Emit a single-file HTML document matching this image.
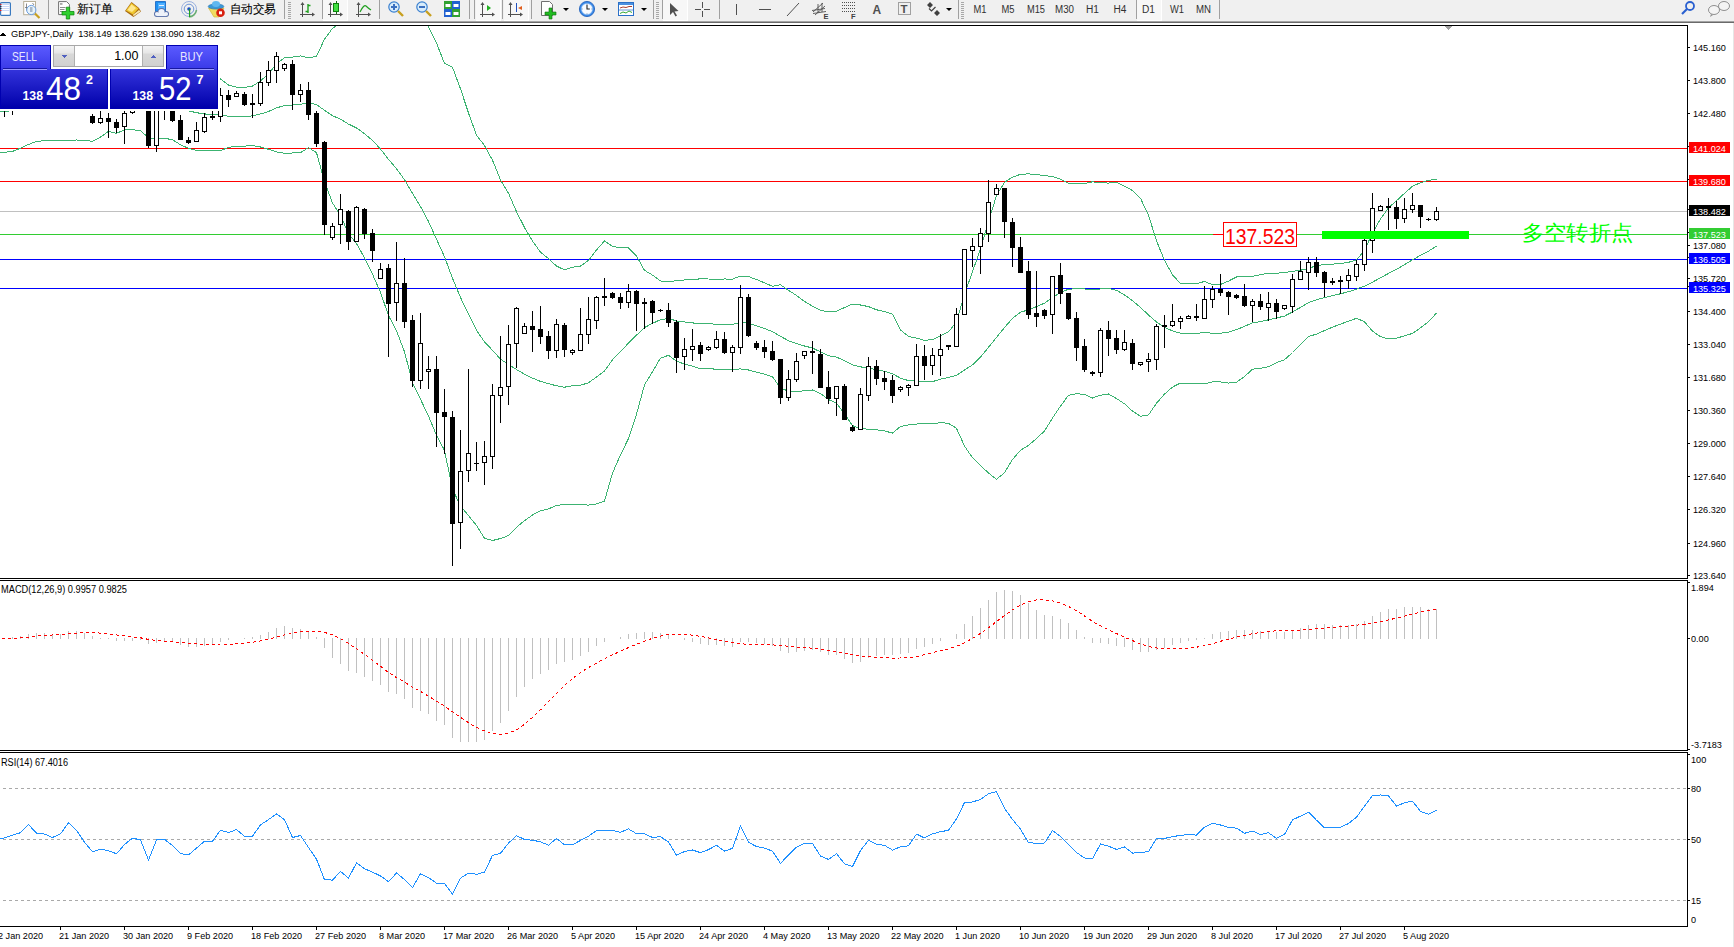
<!DOCTYPE html><html><head><meta charset="utf-8"><style>html,body{margin:0;padding:0;width:1734px;height:947px;overflow:hidden;background:#fff;}svg text{font-family:"Liberation Sans",sans-serif;}</style></head><body><svg width="1734" height="947" viewBox="0 0 1734 947" style="position:absolute;left:0;top:0" font-family="Liberation Sans, sans-serif"><g shape-rendering="geometricPrecision"><rect x="0" y="0" width="1734" height="21" fill="#f0f0f0"/><rect x="0" y="21" width="1734" height="1" fill="#a4a4a4"/><rect x="0" y="22" width="1734" height="1" fill="#6a6a6a"/><rect x="0.6" y="2.6" width="9.8" height="12.8" rx="1" fill="#fff" stroke="#3a7ac0" stroke-width="1.2"/><rect x="2" y="4.0" width="7.5" height="1" fill="#c8d8f8"/><rect x="0" y="4.0" width="1.5" height="1" fill="#e02020"/><rect x="2" y="6.0" width="7.5" height="1" fill="#c8d8f8"/><rect x="0" y="6.0" width="1.5" height="1" fill="#303030"/><rect x="2" y="8.0" width="7.5" height="1" fill="#c8d8f8"/><rect x="0" y="8.0" width="1.5" height="1" fill="#303030"/><rect x="2" y="10.0" width="7.5" height="1" fill="#c8d8f8"/><rect x="0" y="10.0" width="1.5" height="1" fill="#e02020"/><rect x="23.7" y="1.5" width="11.8" height="13.2" fill="#fff" stroke="#b8b098" stroke-width="1"/><path d="M26.5,3.5 v7 M25,7.5 h2 M32.5,3 l1.5,2" stroke="#707070" stroke-width="0.8" fill="none"/><circle cx="31.3" cy="10" r="4.6" fill="#e4f2fa" fill-opacity="0.9" stroke="#6a9ee0" stroke-width="1"/><rect x="30" y="7" width="2.5" height="5" fill="#a8b8c8"/><line x1="35" y1="13.5" x2="39.5" y2="18" stroke="#c8a020" stroke-width="2.2"/><rect x="48" y="0" width="1" height="19" fill="#a0a0a0"/><path d="M58.6,1.6 h8 l2.8,2.8 v10.2 h-10.8 z" fill="#fff" stroke="#707070" stroke-width="1"/><rect x="60" y="3.3" width="2.5" height="1.3" fill="#808080"/><rect x="60" y="7" width="5.5" height="0.9" fill="#808080"/><rect x="60" y="9" width="4.5" height="0.9" fill="#808080"/><rect x="60" y="11" width="3" height="0.9" fill="#808080"/><path d="M66.3,7.2 h3.4 v4.3 h4.3 v3.4 h-4.3 v4.1 h-3.4 v-4.1 h-4.3 v-3.4 h4.3 z" fill="#30d030" stroke="#108a10" stroke-width="0.8"/><text x="77" y="12.5" font-size="12" fill="#000" stroke="#000" stroke-width="0.1" textLength="36" lengthAdjust="spacingAndGlyphs">新订单</text><path d="M125,11 L131.5,2 L139,8 L141,11.5 L133.5,17 Z" fill="#a86a10"/><path d="M126,10.5 L131.5,3 L138.5,8.5 L133,14.5 Z" fill="#f0c830"/><path d="M127.5,10 L131.5,4.5 L136,8 L132,12 Z" fill="#ffe890"/><path d="M133,14.8 L139,10 L140.5,11.5 L133.5,16.2 Z" fill="#f8e8b0"/><path d="M155.5,1.5 h10 v10 h-10 z" fill="#1e90f0" stroke="#1060c0" stroke-width="0.8"/><path d="M158,3 h7 v8 h-7 z" fill="#50b0ff"/><rect x="159" y="5" width="5" height="1" fill="#e8f4ff"/><g fill="#5870a8"><circle cx="157" cy="14" r="3"/><circle cx="161.5" cy="12" r="4"/><circle cx="166" cy="14" r="3"/><rect x="157" y="13" width="9" height="4"/></g><g fill="#eef2fa"><circle cx="157" cy="14" r="2.1"/><circle cx="161.5" cy="12" r="3.1"/><circle cx="166" cy="14" r="2.1"/><rect x="157" y="13" width="9" height="3.1"/></g><circle cx="189" cy="9" r="7.5" fill="none" stroke="#7898d8" stroke-width="0.9" opacity="0.8"/><circle cx="189" cy="9" r="4.8" fill="none" stroke="#5080d0" stroke-width="0.9" opacity="0.9"/><path d="M189,17 A8,8 0 0 0 196.5,10" stroke="#58a858" stroke-width="1.6" fill="none" opacity="0.8"/><circle cx="189" cy="9" r="1.8" fill="#1e50c0"/><rect x="189" y="9" width="1.2" height="8" fill="#20a020"/><path d="M208.5,8 L224,8 L219,17 L214,17 Z" fill="#f0dc60" stroke="#d0b030" stroke-width="0.6"/><ellipse cx="216" cy="6.5" rx="7.8" ry="2.6" fill="#3a98d8" stroke="#2070b0" stroke-width="0.6"/><ellipse cx="216" cy="4" rx="4" ry="3" fill="#60b8f0"/><circle cx="220.5" cy="12.8" r="4.3" fill="#d82010"/><rect x="219" y="11.3" width="3" height="3" fill="#fff"/><text x="229.5" y="12.5" font-size="12" fill="#000" stroke="#000" stroke-width="0.1" textLength="46.5" lengthAdjust="spacingAndGlyphs">自动交易</text><rect x="284" y="0" width="1" height="19" fill="#a0a0a0"/><rect x="288" y="2" width="3" height="1" fill="#a8a8a8"/><rect x="288" y="4" width="3" height="1" fill="#a8a8a8"/><rect x="288" y="6" width="3" height="1" fill="#a8a8a8"/><rect x="288" y="8" width="3" height="1" fill="#a8a8a8"/><rect x="288" y="10" width="3" height="1" fill="#a8a8a8"/><rect x="288" y="12" width="3" height="1" fill="#a8a8a8"/><rect x="288" y="14" width="3" height="1" fill="#a8a8a8"/><rect x="288" y="16" width="3" height="1" fill="#a8a8a8"/><rect x="288" y="18" width="3" height="1" fill="#a8a8a8"/><rect x="302" y="3" width="1" height="14" fill="#505050"/><rect x="300" y="14" width="14" height="1" fill="#505050"/><polygon points="300.5,5 304.5,5 302.5,2" fill="#505050"/><polygon points="312,12.5 312,16.5 315,14.5" fill="#505050"/><path d="M308,4 v9 M305.5,11.5 h2.5 M308,5.5 h2.5" stroke="#20a020" stroke-width="1.4" fill="none"/><rect x="322" y="0" width="1" height="19" fill="#a0a0a0"/><rect x="323" y="0" width="24" height="20" fill="#f7f7f7"/><rect x="347" y="0" width="1" height="21" fill="#fff"/><rect x="323" y="20" width="24" height="1" fill="#fff"/><rect x="330" y="3" width="1" height="14" fill="#505050"/><rect x="328" y="14" width="14" height="1" fill="#505050"/><polygon points="328.5,5 332.5,5 330.5,2" fill="#505050"/><polygon points="340,12.5 340,16.5 343,14.5" fill="#505050"/><rect x="336" y="1" width="1" height="13" fill="#107010"/><rect x="333.5" y="3.5" width="5" height="8" fill="#40e040" stroke="#108010" stroke-width="1"/><rect x="358" y="3" width="1" height="14" fill="#505050"/><rect x="356" y="14" width="14" height="1" fill="#505050"/><polygon points="356.5,5 360.5,5 358.5,2" fill="#505050"/><polygon points="368,12.5 368,16.5 371,14.5" fill="#505050"/><path d="M360,12 Q364,4 366,6 T371,10" stroke="#20a020" stroke-width="1.2" fill="none"/><rect x="379" y="0" width="1" height="19" fill="#a0a0a0"/><circle cx="394" cy="7" r="5.2" fill="#d8ecfa" stroke="#3a80d0" stroke-width="1.2"/><line x1="398" y1="11" x2="403" y2="16" stroke="#c8a020" stroke-width="2.4"/><rect x="391" y="6" width="6" height="2" fill="#3a70c0"/><rect x="393" y="4" width="2" height="6" fill="#3a70c0"/><circle cx="422" cy="7" r="5.2" fill="#d8ecfa" stroke="#3a80d0" stroke-width="1.2"/><line x1="426" y1="11" x2="431" y2="16" stroke="#c8a020" stroke-width="2.4"/><rect x="419" y="6" width="6" height="2" fill="#3a70c0"/><rect x="444" y="1" width="8" height="8" fill="#30a030"/><rect x="452" y="1" width="8" height="8" fill="#2060d0"/><rect x="444" y="9" width="8" height="8" fill="#2060d0"/><rect x="452" y="9" width="8" height="8" fill="#30a030"/><rect x="445.5" y="4" width="5" height="3" fill="#fff"/><rect x="453.5" y="4" width="5" height="3" fill="#fff"/><rect x="445.5" y="12" width="5" height="3" fill="#fff"/><rect x="453.5" y="12" width="5" height="3" fill="#fff"/><rect x="469" y="0" width="1" height="19" fill="#a0a0a0"/><rect x="474" y="0" width="1" height="19" fill="#a0a0a0"/><rect x="476" y="0" width="24" height="20" fill="#f7f7f7"/><rect x="500" y="0" width="1" height="21" fill="#fff"/><rect x="476" y="20" width="24" height="1" fill="#fff"/><rect x="482" y="3" width="1" height="14" fill="#505050"/><rect x="480" y="14" width="14" height="1" fill="#505050"/><polygon points="480.5,5 484.5,5 482.5,2" fill="#505050"/><polygon points="492,12.5 492,16.5 495,14.5" fill="#505050"/><polygon points="487,5 487,11 491,8" fill="#20b020"/><rect x="502" y="0" width="1" height="19" fill="#a0a0a0"/><rect x="504" y="0" width="24" height="20" fill="#f7f7f7"/><rect x="528" y="0" width="1" height="21" fill="#fff"/><rect x="504" y="20" width="24" height="1" fill="#fff"/><rect x="510" y="3" width="1" height="14" fill="#505050"/><rect x="508" y="14" width="14" height="1" fill="#505050"/><polygon points="508.5,5 512.5,5 510.5,2" fill="#505050"/><polygon points="520,12.5 520,16.5 523,14.5" fill="#505050"/><rect x="516" y="3" width="1" height="9" fill="#2050c0"/><polygon points="518,8 522,6 522,10" fill="#e06020"/><rect x="531" y="0" width="1" height="19" fill="#a0a0a0"/><path d="M541.5,1.5 h8 l3,3 v11 h-11 z" fill="#fff" stroke="#707070"/><path d="M549,8 h3 v4 h4 v3 h-4 v4 h-3 v-4 h-4 v-3 h4 z" fill="#22bb22" stroke="#107010" stroke-width="0.6"/><polygon points="563,8 569,8 566,11" fill="#000"/><circle cx="587" cy="9" r="7.6" fill="#3a8ae8" stroke="#1a5ab8" stroke-width="0.8"/><circle cx="587" cy="9" r="5.6" fill="#f8fbff" stroke="#8ab8f0" stroke-width="0.6"/><path d="M587,4.8 v4.2 h2.8" stroke="#222" stroke-width="1.1" fill="none"/><g fill="#6890c0"><rect x="586.5" y="3.6" width="1" height="1"/><rect x="586.5" y="13.4" width="1" height="1"/><rect x="581.6" y="8.5" width="1" height="1"/><rect x="591.4" y="8.5" width="1" height="1"/></g><polygon points="602,8 608,8 605,11" fill="#000"/><rect x="618.5" y="2.5" width="15" height="13" fill="#fff" stroke="#2a70c8"/><rect x="619" y="3" width="14" height="2" fill="#4a90e0"/><rect x="619" y="9.5" width="14" height="1" fill="#6a9ad8"/><path d="M620,8 l3,-1 l3,0.5 l3,-1 l3,0" stroke="#a02818" stroke-width="0.9" fill="none"/><path d="M620,13.5 l3,-1.5 l3,1 l3,-2 l3,1.5" stroke="#20a020" stroke-width="0.9" fill="none"/><polygon points="641,8 647,8 644,11" fill="#000"/><rect x="653" y="0" width="1" height="19" fill="#a0a0a0"/><rect x="656" y="2" width="3" height="1" fill="#a8a8a8"/><rect x="656" y="4" width="3" height="1" fill="#a8a8a8"/><rect x="656" y="6" width="3" height="1" fill="#a8a8a8"/><rect x="656" y="8" width="3" height="1" fill="#a8a8a8"/><rect x="656" y="10" width="3" height="1" fill="#a8a8a8"/><rect x="656" y="12" width="3" height="1" fill="#a8a8a8"/><rect x="656" y="14" width="3" height="1" fill="#a8a8a8"/><rect x="656" y="16" width="3" height="1" fill="#a8a8a8"/><rect x="656" y="18" width="3" height="1" fill="#a8a8a8"/><rect x="662" y="0" width="1" height="19" fill="#a0a0a0"/><rect x="663" y="0" width="24" height="20" fill="#f7f7f7"/><rect x="687" y="0" width="1" height="21" fill="#fff"/><rect x="663" y="20" width="24" height="1" fill="#fff"/><path d="M670,3 L670,15 L673,12 L675.5,16.5 L677,15.5 L674.5,11.5 L678.5,11 Z" fill="#505050"/><rect x="702" y="2" width="1" height="6" fill="#505050"/><rect x="702" y="11" width="1" height="6" fill="#505050"/><rect x="695" y="9" width="6" height="1" fill="#505050"/><rect x="704" y="9" width="6" height="1" fill="#505050"/><rect x="719" y="0" width="1" height="19" fill="#a0a0a0"/><rect x="736" y="4" width="1" height="11" fill="#505050"/><rect x="759" y="9" width="12" height="1" fill="#505050"/><line x1="787" y1="16" x2="799" y2="3" stroke="#505050" stroke-width="1"/><path d="M813,12 l10,-9 M815,15 l10,-9 M812,10.5 l13,-2 M813,13.5 l13,-2 M818,4 l0,9 M822,3 l0,9" stroke="#505050" stroke-width="0.9" fill="none"/><text x="823.5" y="18.5" font-size="7.5" font-weight="bold" fill="#404040">E</text><line x1="842" y1="2.5" x2="855" y2="2.5" stroke="#505050" stroke-width="1" stroke-dasharray="1,1"/><line x1="842" y1="5.5" x2="855" y2="5.5" stroke="#505050" stroke-width="1" stroke-dasharray="1,1"/><line x1="842" y1="8.5" x2="855" y2="8.5" stroke="#505050" stroke-width="1" stroke-dasharray="1,1"/><line x1="842" y1="11.5" x2="855" y2="11.5" stroke="#505050" stroke-width="1" stroke-dasharray="1,1"/><text x="851" y="18.5" font-size="7.5" font-weight="bold" fill="#404040">F</text><text x="872.5" y="14" font-size="12" font-weight="bold" fill="#505050">A</text><rect x="898.5" y="2.5" width="12" height="12" fill="none" stroke="#505050" stroke-width="1" stroke-dasharray="1,1"/><text x="900.5" y="13" font-size="11.5" font-weight="bold" fill="#505050">T</text><path d="M927,5 l3,-3 l3,3 l-3,3 z M934,13 l3,-3 l3,3 l-3,3 z" fill="#404040"/><path d="M929,8.5 l2.5,2.5 l4,-4" stroke="#404040" stroke-width="1.2" fill="none"/><polygon points="946,8 952,8 949,11" fill="#000"/><rect x="958" y="0" width="1" height="19" fill="#a0a0a0"/><rect x="961" y="2" width="3" height="1" fill="#a8a8a8"/><rect x="961" y="4" width="3" height="1" fill="#a8a8a8"/><rect x="961" y="6" width="3" height="1" fill="#a8a8a8"/><rect x="961" y="8" width="3" height="1" fill="#a8a8a8"/><rect x="961" y="10" width="3" height="1" fill="#a8a8a8"/><rect x="961" y="12" width="3" height="1" fill="#a8a8a8"/><rect x="961" y="14" width="3" height="1" fill="#a8a8a8"/><rect x="961" y="16" width="3" height="1" fill="#a8a8a8"/><rect x="961" y="18" width="3" height="1" fill="#a8a8a8"/><rect x="1136" y="0" width="1" height="19" fill="#a0a0a0"/><rect x="1137" y="0" width="24" height="20" fill="#f7f7f7"/><rect x="1161" y="0" width="1" height="21" fill="#fff"/><rect x="1137" y="20" width="24" height="1" fill="#fff"/><text x="973.5" y="13" font-size="10" fill="#303030" textLength="13" lengthAdjust="spacingAndGlyphs">M1</text><text x="1001.5" y="13" font-size="10" fill="#303030" textLength="13" lengthAdjust="spacingAndGlyphs">M5</text><text x="1027" y="13" font-size="10" fill="#303030" textLength="18" lengthAdjust="spacingAndGlyphs">M15</text><text x="1055" y="13" font-size="10" fill="#303030" textLength="19" lengthAdjust="spacingAndGlyphs">M30</text><text x="1086" y="13" font-size="10" fill="#303030" textLength="13" lengthAdjust="spacingAndGlyphs">H1</text><text x="1113.5" y="13" font-size="10" fill="#303030" textLength="13" lengthAdjust="spacingAndGlyphs">H4</text><text x="1142" y="13" font-size="10" fill="#303030" textLength="13" lengthAdjust="spacingAndGlyphs">D1</text><text x="1170" y="13" font-size="10" fill="#303030" textLength="14" lengthAdjust="spacingAndGlyphs">W1</text><text x="1196" y="13" font-size="10" fill="#303030" textLength="15" lengthAdjust="spacingAndGlyphs">MN</text><rect x="1219" y="0" width="1" height="19" fill="#a0a0a0"/><circle cx="1690" cy="6" r="4" fill="none" stroke="#2a60d0" stroke-width="1.8"/><line x1="1687" y1="9" x2="1682" y2="14" stroke="#2a60d0" stroke-width="2.2"/><ellipse cx="1724" cy="6" rx="5.5" ry="4.5" fill="#f4f4f4" stroke="#909090"/><ellipse cx="1714" cy="10" rx="5.5" ry="4.5" fill="#f4f4f4" stroke="#909090"/><path d="M1711,14 l-1,3 l3,-2" fill="#909090"/></g><g shape-rendering="crispEdges"><rect x="0" y="23" width="1734" height="924" fill="#ffffff" /><rect x="1733" y="23" width="1" height="924" fill="#e6e6e6" /><defs><clipPath id="cm"><rect x="0" y="26" width="1687" height="552"/></clipPath><clipPath id="cmacd"><rect x="0" y="581" width="1687" height="169"/></clipPath><clipPath id="crsi"><rect x="0" y="753" width="1687" height="173"/></clipPath></defs><g clip-path="url(#cm)"><rect x="0" y="148" width="1687" height="1" fill="#ff0000" /><rect x="0" y="181" width="1687" height="1" fill="#ff0000" /><rect x="0" y="211" width="1687" height="1" fill="#c0c0c0" /><rect x="0" y="234" width="1687" height="1" fill="#32cd32" /><rect x="0" y="259" width="1687" height="1" fill="#0000ff" /><rect x="0" y="288" width="1687" height="1" fill="#0000ff" /><polyline points="-3.5,67.7 4.5,67.5 12.5,66.5 20.5,65.9 28.5,63.8 36.5,63.3 44.5,62.5 52.5,62.8 60.5,64.1 68.5,64.4 76.5,65.3 84.5,66.3 92.5,66.0 100.5,68.1 108.5,71.5 116.5,70.6 124.5,72.2 132.5,73.8 140.5,74.4 148.5,70.7 156.5,70.7 164.5,70.7 172.5,71.1 180.5,70.6 188.5,73.3 196.5,75.2 204.5,77.2 212.5,78.7 220.5,79.0 228.5,85.0 236.5,87.2 244.5,87.4 252.5,86.1 260.5,81.0 268.5,73.7 276.5,64.0 284.5,57.7 292.5,57.1 300.5,55.9 308.5,57.9 316.5,56.3 324.5,39.2 332.5,28.3 340.5,23.1 348.5,14.5 356.5,12.4 364.5,9.6 372.5,6.6 380.5,5.8 388.5,3.1 396.5,6.8 404.5,7.5 412.5,4.2 420.5,13.7 428.5,26.8 436.5,43.1 444.5,63.4 452.5,67.3 460.5,88.8 468.5,113.0 476.5,135.1 484.5,145.6 492.5,160.2 500.5,180.0 508.5,193.2 516.5,211.7 524.5,227.5 532.5,241.1 540.5,252.1 548.5,258.6 556.5,266.1 564.5,269.9 572.5,267.3 580.5,266.1 588.5,260.4 596.5,250.0 604.5,240.9 612.5,246.4 620.5,247.7 628.5,247.9 636.5,256.1 644.5,270.3 652.5,275.1 660.5,281.0 668.5,281.6 676.5,280.7 684.5,280.0 692.5,279.6 700.5,278.8 708.5,279.0 716.5,279.2 724.5,279.0 732.5,279.1 740.5,276.1 748.5,276.6 756.5,279.5 764.5,282.8 772.5,286.4 780.5,284.8 788.5,290.3 796.5,295.5 804.5,301.4 812.5,306.1 820.5,310.3 828.5,311.8 836.5,311.2 844.5,307.5 852.5,304.1 860.5,305.0 868.5,306.6 876.5,309.8 884.5,311.6 892.5,314.2 900.5,329.9 908.5,336.4 916.5,338.1 924.5,340.3 932.5,339.6 940.5,335.7 948.5,331.8 956.5,322.1 964.5,294.2 972.5,271.8 980.5,248.7 988.5,221.6 996.5,195.5 1004.5,182.3 1012.5,177.2 1020.5,174.3 1028.5,173.9 1036.5,174.5 1044.5,175.6 1052.5,176.5 1060.5,179.1 1068.5,183.2 1076.5,183.9 1084.5,183.5 1092.5,181.8 1100.5,182.7 1108.5,183.1 1116.5,182.1 1124.5,186.1 1132.5,190.5 1140.5,198.3 1148.5,215.3 1156.5,240.8 1164.5,260.4 1172.5,274.8 1180.5,283.5 1188.5,283.7 1196.5,283.8 1204.5,281.4 1212.5,284.7 1220.5,284.4 1228.5,281.1 1236.5,277.0 1244.5,276.2 1252.5,276.4 1260.5,274.8 1268.5,273.1 1276.5,273.2 1284.5,272.5 1292.5,271.3 1300.5,270.2 1308.5,268.6 1316.5,265.4 1324.5,264.7 1332.5,264.1 1340.5,263.5 1348.5,262.3 1356.5,259.9 1364.5,250.5 1372.5,233.0 1380.5,219.0 1388.5,207.8 1396.5,200.7 1404.5,193.3 1412.5,186.2 1420.5,182.7 1428.5,180.4 1436.5,179.2" fill="none" stroke="#3cb371" stroke-width="1" /><polyline points="-3.5,110.1 4.5,109.9 12.5,109.0 20.5,107.1 28.5,104.1 36.5,102.4 44.5,101.5 52.5,101.8 60.5,102.3 68.5,102.4 76.5,102.6 84.5,103.3 92.5,103.7 100.5,102.6 108.5,101.4 116.5,101.9 124.5,101.0 132.5,101.9 140.5,102.3 148.5,104.4 156.5,104.4 164.5,104.5 172.5,105.5 180.5,107.7 188.5,110.8 196.5,112.7 204.5,113.9 212.5,114.8 220.5,114.9 228.5,116.2 236.5,116.7 244.5,116.7 252.5,115.8 260.5,114.0 268.5,111.5 276.5,107.9 284.5,105.5 292.5,105.1 300.5,104.3 308.5,102.7 316.5,104.5 324.5,110.3 332.5,115.7 340.5,119.1 348.5,124.1 356.5,127.9 364.5,133.7 372.5,140.4 380.5,149.1 388.5,159.3 396.5,168.8 404.5,179.7 412.5,193.4 420.5,206.5 428.5,221.5 436.5,239.2 444.5,256.8 452.5,278.3 460.5,297.4 468.5,314.3 476.5,330.3 484.5,341.9 492.5,350.3 500.5,359.2 508.5,364.4 516.5,369.5 524.5,374.1 532.5,378.1 540.5,381.4 548.5,383.7 556.5,385.8 564.5,387.2 572.5,385.7 580.5,385.2 588.5,382.8 596.5,377.0 604.5,371.0 612.5,359.8 620.5,351.3 628.5,343.2 636.5,335.2 644.5,327.5 652.5,323.4 660.5,319.6 668.5,318.5 676.5,320.9 684.5,322.0 692.5,322.9 700.5,323.8 708.5,323.6 716.5,324.3 724.5,324.5 732.5,324.3 740.5,322.5 748.5,323.3 756.5,325.8 764.5,328.5 772.5,331.6 780.5,336.3 788.5,340.7 796.5,343.6 804.5,346.0 812.5,348.0 820.5,351.9 828.5,355.7 836.5,357.1 844.5,360.7 852.5,364.9 860.5,366.9 868.5,367.8 876.5,369.8 884.5,371.2 892.5,373.7 900.5,378.2 908.5,380.6 916.5,381.1 924.5,381.8 932.5,381.6 940.5,379.2 948.5,377.5 956.5,375.2 964.5,370.1 972.5,364.8 980.5,357.1 988.5,347.3 996.5,337.4 1004.5,327.5 1012.5,318.4 1020.5,312.3 1028.5,309.7 1036.5,306.6 1044.5,303.2 1052.5,297.3 1060.5,292.6 1068.5,289.2 1076.5,288.8 1084.5,289.0 1092.5,289.9 1100.5,289.0 1108.5,288.5 1116.5,290.3 1124.5,294.9 1132.5,300.8 1140.5,307.3 1148.5,315.1 1156.5,322.0 1164.5,327.3 1172.5,330.9 1180.5,333.2 1188.5,333.4 1196.5,333.4 1204.5,332.6 1212.5,333.2 1220.5,333.2 1228.5,332.1 1236.5,329.6 1244.5,326.4 1252.5,322.8 1260.5,321.6 1268.5,319.8 1276.5,317.9 1284.5,316.1 1292.5,311.9 1300.5,307.4 1308.5,302.5 1316.5,299.8 1324.5,297.6 1332.5,295.6 1340.5,293.8 1348.5,291.7 1356.5,289.1 1364.5,286.1 1372.5,282.1 1380.5,277.8 1388.5,273.4 1396.5,269.4 1404.5,264.6 1412.5,259.8 1420.5,255.3 1428.5,251.1 1436.5,246.1" fill="none" stroke="#3cb371" stroke-width="1" /><polyline points="-3.5,152.4 4.5,152.3 12.5,151.4 20.5,148.2 28.5,144.4 36.5,141.5 44.5,140.6 52.5,140.7 60.5,140.5 68.5,140.3 76.5,140.0 84.5,140.2 92.5,141.3 100.5,137.1 108.5,131.4 116.5,133.3 124.5,129.8 132.5,129.9 140.5,130.3 148.5,138.1 156.5,138.0 164.5,138.2 172.5,139.8 180.5,144.7 188.5,148.4 196.5,150.3 204.5,150.5 212.5,150.9 220.5,150.7 228.5,147.4 236.5,146.1 244.5,146.1 252.5,145.5 260.5,147.0 268.5,149.3 276.5,151.9 284.5,153.2 292.5,153.0 300.5,152.7 308.5,147.6 316.5,152.7 324.5,181.5 332.5,203.0 340.5,215.2 348.5,233.7 356.5,243.5 364.5,257.9 372.5,274.2 380.5,292.4 388.5,315.5 396.5,330.8 404.5,351.8 412.5,382.7 420.5,399.3 428.5,416.1 436.5,435.4 444.5,450.3 452.5,489.3 460.5,505.9 468.5,515.6 476.5,525.5 484.5,538.2 492.5,540.5 500.5,538.5 508.5,535.6 516.5,527.2 524.5,520.7 532.5,515.0 540.5,510.7 548.5,508.9 556.5,505.5 564.5,504.5 572.5,504.1 580.5,504.4 588.5,505.1 596.5,504.0 604.5,501.2 612.5,473.1 620.5,454.9 628.5,438.5 636.5,414.3 644.5,384.8 652.5,371.7 660.5,358.1 668.5,355.3 676.5,361.1 684.5,364.1 692.5,366.2 700.5,368.7 708.5,368.2 716.5,369.5 724.5,370.0 732.5,369.6 740.5,368.9 748.5,370.0 756.5,372.1 764.5,374.2 772.5,376.8 780.5,387.9 788.5,391.2 796.5,391.8 804.5,390.7 812.5,390.0 820.5,393.5 828.5,399.6 836.5,403.1 844.5,413.8 852.5,425.6 860.5,428.8 868.5,429.1 876.5,429.8 884.5,430.9 892.5,433.1 900.5,426.4 908.5,424.9 916.5,424.1 924.5,423.3 932.5,423.6 940.5,422.7 948.5,423.3 956.5,428.3 964.5,446.0 972.5,457.8 980.5,465.5 988.5,473.0 996.5,479.3 1004.5,472.7 1012.5,459.5 1020.5,450.2 1028.5,445.4 1036.5,438.6 1044.5,430.9 1052.5,418.1 1060.5,406.1 1068.5,395.3 1076.5,393.7 1084.5,394.5 1092.5,398.0 1100.5,395.2 1108.5,394.0 1116.5,398.5 1124.5,403.8 1132.5,411.1 1140.5,416.2 1148.5,414.9 1156.5,403.2 1164.5,394.1 1172.5,387.1 1180.5,383.0 1188.5,383.0 1196.5,383.0 1204.5,383.8 1212.5,381.8 1220.5,382.0 1228.5,383.1 1236.5,382.2 1244.5,376.6 1252.5,369.2 1260.5,368.4 1268.5,366.6 1276.5,362.7 1284.5,359.7 1292.5,352.5 1300.5,344.5 1308.5,336.4 1316.5,334.2 1324.5,330.5 1332.5,327.2 1340.5,324.1 1348.5,321.2 1356.5,318.3 1364.5,321.8 1372.5,331.2 1380.5,336.6 1388.5,338.9 1396.5,338.1 1404.5,335.9 1412.5,333.4 1420.5,327.9 1428.5,321.8 1436.5,313.0" fill="none" stroke="#3cb371" stroke-width="1" /><rect x="0" y="111" width="9" height="1" fill="#3cb371" /><rect x="4" y="92" width="1" height="25" fill="#000" /><rect x="2" y="96" width="5" height="10" fill="#000" /><rect x="12" y="96" width="1" height="19" fill="#000" /><rect x="10" y="100" width="5" height="6" fill="#000" /><rect x="11" y="101" width="3" height="4" fill="#fff" /><rect x="20" y="90" width="1" height="13" fill="#000" /><rect x="18" y="96" width="5" height="4" fill="#000" /><rect x="19" y="97" width="3" height="2" fill="#fff" /><rect x="28" y="76" width="1" height="22" fill="#000" /><rect x="26" y="81" width="5" height="15" fill="#000" /><rect x="27" y="82" width="3" height="13" fill="#fff" /><rect x="36" y="78" width="1" height="21" fill="#000" /><rect x="34" y="81" width="5" height="15" fill="#000" /><rect x="44" y="92" width="1" height="6" fill="#000" /><rect x="42" y="94" width="5" height="2" fill="#000" /><rect x="52" y="88" width="1" height="16" fill="#000" /><rect x="50" y="94" width="5" height="7" fill="#000" /><rect x="60" y="89" width="1" height="16" fill="#000" /><rect x="58" y="94" width="5" height="7" fill="#000" /><rect x="59" y="95" width="3" height="5" fill="#fff" /><rect x="68" y="66" width="1" height="30" fill="#000" /><rect x="66" y="73" width="5" height="21" fill="#000" /><rect x="67" y="74" width="3" height="19" fill="#fff" /><rect x="76" y="70" width="1" height="20" fill="#000" /><rect x="74" y="73" width="5" height="11" fill="#000" /><rect x="84" y="80" width="1" height="28" fill="#000" /><rect x="82" y="84" width="5" height="21" fill="#000" /><rect x="92" y="114" width="1" height="10" fill="#000" /><rect x="90" y="116" width="5" height="7" fill="#000" /><rect x="100" y="111" width="1" height="13" fill="#000" /><rect x="98" y="118" width="5" height="5" fill="#000" /><rect x="99" y="119" width="3" height="3" fill="#fff" /><rect x="108" y="113" width="1" height="25" fill="#000" /><rect x="106" y="118" width="5" height="4" fill="#000" /><rect x="116" y="119" width="1" height="14" fill="#000" /><rect x="114" y="122" width="5" height="6" fill="#000" /><rect x="124" y="111" width="1" height="33" fill="#000" /><rect x="122" y="113" width="5" height="14" fill="#000" /><rect x="123" y="114" width="3" height="12" fill="#fff" /><rect x="132" y="98" width="1" height="16" fill="#000" /><rect x="130" y="103" width="5" height="10" fill="#000" /><rect x="131" y="104" width="3" height="8" fill="#fff" /><rect x="140" y="99" width="1" height="8" fill="#000" /><rect x="138" y="103" width="5" height="2" fill="#000" /><rect x="148" y="102" width="1" height="46" fill="#000" /><rect x="146" y="105" width="5" height="41" fill="#000" /><rect x="156" y="100" width="1" height="52" fill="#000" /><rect x="154" y="108" width="5" height="38" fill="#000" /><rect x="155" y="109" width="3" height="36" fill="#fff" /><rect x="164" y="97" width="1" height="23" fill="#000" /><rect x="162" y="105" width="5" height="3" fill="#000" /><rect x="163" y="106" width="3" height="1" fill="#fff" /><rect x="172" y="100" width="1" height="22" fill="#000" /><rect x="170" y="104" width="5" height="17" fill="#000" /><rect x="180" y="115" width="1" height="24" fill="#000" /><rect x="178" y="120" width="5" height="20" fill="#000" /><rect x="188" y="137" width="1" height="7" fill="#000" /><rect x="186" y="140" width="5" height="3" fill="#000" /><rect x="196" y="122" width="1" height="20" fill="#000" /><rect x="194" y="130" width="5" height="12" fill="#000" /><rect x="195" y="131" width="3" height="10" fill="#fff" /><rect x="204" y="113" width="1" height="20" fill="#000" /><rect x="202" y="117" width="5" height="15" fill="#000" /><rect x="203" y="118" width="3" height="13" fill="#fff" /><rect x="212" y="111" width="1" height="9" fill="#000" /><rect x="210" y="116" width="5" height="2" fill="#000" /><rect x="220" y="88" width="1" height="34" fill="#000" /><rect x="218" y="95" width="5" height="22" fill="#000" /><rect x="219" y="96" width="3" height="20" fill="#fff" /><rect x="228" y="90" width="1" height="17" fill="#000" /><rect x="226" y="95" width="5" height="5" fill="#000" /><rect x="236" y="91" width="1" height="6" fill="#000" /><rect x="234" y="93" width="5" height="4" fill="#000" /><rect x="235" y="94" width="3" height="2" fill="#fff" /><rect x="244" y="92" width="1" height="14" fill="#000" /><rect x="242" y="94" width="5" height="11" fill="#000" /><rect x="252" y="94" width="1" height="24" fill="#000" /><rect x="250" y="103" width="5" height="2" fill="#000" /><rect x="260" y="72" width="1" height="34" fill="#000" /><rect x="258" y="82" width="5" height="22" fill="#000" /><rect x="259" y="83" width="3" height="20" fill="#fff" /><rect x="268" y="61" width="1" height="25" fill="#000" /><rect x="266" y="70" width="5" height="13" fill="#000" /><rect x="267" y="71" width="3" height="11" fill="#fff" /><rect x="276" y="52" width="1" height="31" fill="#000" /><rect x="274" y="56" width="5" height="15" fill="#000" /><rect x="275" y="57" width="3" height="13" fill="#fff" /><rect x="284" y="63" width="1" height="8" fill="#000" /><rect x="282" y="64" width="5" height="5" fill="#000" /><rect x="283" y="65" width="3" height="3" fill="#fff" /><rect x="292" y="60" width="1" height="50" fill="#000" /><rect x="290" y="64" width="5" height="31" fill="#000" /><rect x="300" y="84" width="1" height="18" fill="#000" /><rect x="298" y="90" width="5" height="5" fill="#000" /><rect x="299" y="91" width="3" height="3" fill="#fff" /><rect x="308" y="82" width="1" height="38" fill="#000" /><rect x="306" y="90" width="5" height="25" fill="#000" /><rect x="316" y="111" width="1" height="36" fill="#000" /><rect x="314" y="113" width="5" height="31" fill="#000" /><rect x="324" y="141" width="1" height="94" fill="#000" /><rect x="322" y="142" width="5" height="83" fill="#000" /><rect x="332" y="223" width="1" height="17" fill="#000" /><rect x="330" y="226" width="5" height="12" fill="#000" /><rect x="331" y="227" width="3" height="10" fill="#fff" /><rect x="340" y="194" width="1" height="50" fill="#000" /><rect x="338" y="209" width="5" height="16" fill="#000" /><rect x="339" y="210" width="3" height="14" fill="#fff" /><rect x="348" y="210" width="1" height="40" fill="#000" /><rect x="346" y="211" width="5" height="31" fill="#000" /><rect x="356" y="206" width="1" height="36" fill="#000" /><rect x="354" y="207" width="5" height="35" fill="#000" /><rect x="355" y="208" width="3" height="33" fill="#fff" /><rect x="364" y="208" width="1" height="31" fill="#000" /><rect x="362" y="209" width="5" height="25" fill="#000" /><rect x="372" y="229" width="1" height="33" fill="#000" /><rect x="370" y="233" width="5" height="18" fill="#000" /><rect x="380" y="263" width="1" height="16" fill="#000" /><rect x="378" y="269" width="5" height="10" fill="#000" /><rect x="379" y="270" width="3" height="8" fill="#fff" /><rect x="388" y="264" width="1" height="93" fill="#000" /><rect x="386" y="268" width="5" height="36" fill="#000" /><rect x="396" y="242" width="1" height="79" fill="#000" /><rect x="394" y="283" width="5" height="20" fill="#000" /><rect x="395" y="284" width="3" height="18" fill="#fff" /><rect x="404" y="258" width="1" height="70" fill="#000" /><rect x="402" y="283" width="5" height="39" fill="#000" /><rect x="412" y="315" width="1" height="72" fill="#000" /><rect x="410" y="320" width="5" height="61" fill="#000" /><rect x="420" y="313" width="1" height="76" fill="#000" /><rect x="418" y="343" width="5" height="38" fill="#000" /><rect x="419" y="344" width="3" height="36" fill="#fff" /><rect x="428" y="356" width="1" height="33" fill="#000" /><rect x="426" y="369" width="5" height="3" fill="#000" /><rect x="427" y="370" width="3" height="1" fill="#fff" /><rect x="436" y="356" width="1" height="91" fill="#000" /><rect x="434" y="369" width="5" height="44" fill="#000" /><rect x="444" y="389" width="1" height="65" fill="#000" /><rect x="442" y="412" width="5" height="5" fill="#000" /><rect x="452" y="411" width="1" height="155" fill="#000" /><rect x="450" y="417" width="5" height="107" fill="#000" /><rect x="460" y="430" width="1" height="119" fill="#000" /><rect x="458" y="471" width="5" height="52" fill="#000" /><rect x="459" y="472" width="3" height="50" fill="#fff" /><rect x="468" y="369" width="1" height="113" fill="#000" /><rect x="466" y="453" width="5" height="18" fill="#000" /><rect x="467" y="454" width="3" height="16" fill="#fff" /><rect x="476" y="442" width="1" height="29" fill="#000" /><rect x="474" y="463" width="5" height="1" fill="#000" /><rect x="484" y="441" width="1" height="44" fill="#000" /><rect x="482" y="456" width="5" height="7" fill="#000" /><rect x="483" y="457" width="3" height="5" fill="#fff" /><rect x="492" y="384" width="1" height="85" fill="#000" /><rect x="490" y="395" width="5" height="62" fill="#000" /><rect x="491" y="396" width="3" height="60" fill="#fff" /><rect x="500" y="336" width="1" height="87" fill="#000" /><rect x="498" y="387" width="5" height="9" fill="#000" /><rect x="499" y="388" width="3" height="7" fill="#fff" /><rect x="508" y="325" width="1" height="80" fill="#000" /><rect x="506" y="344" width="5" height="43" fill="#000" /><rect x="507" y="345" width="3" height="41" fill="#fff" /><rect x="516" y="307" width="1" height="61" fill="#000" /><rect x="514" y="308" width="5" height="36" fill="#000" /><rect x="515" y="309" width="3" height="34" fill="#fff" /><rect x="524" y="323" width="1" height="10" fill="#000" /><rect x="522" y="326" width="5" height="8" fill="#000" /><rect x="523" y="327" width="3" height="6" fill="#fff" /><rect x="532" y="311" width="1" height="41" fill="#000" /><rect x="530" y="326" width="5" height="4" fill="#000" /><rect x="540" y="306" width="1" height="38" fill="#000" /><rect x="538" y="329" width="5" height="8" fill="#000" /><rect x="548" y="331" width="1" height="28" fill="#000" /><rect x="546" y="336" width="5" height="15" fill="#000" /><rect x="556" y="319" width="1" height="39" fill="#000" /><rect x="554" y="324" width="5" height="27" fill="#000" /><rect x="555" y="325" width="3" height="25" fill="#fff" /><rect x="564" y="323" width="1" height="34" fill="#000" /><rect x="562" y="325" width="5" height="25" fill="#000" /><rect x="572" y="349" width="1" height="6" fill="#000" /><rect x="570" y="350" width="5" height="3" fill="#000" /><rect x="571" y="351" width="3" height="1" fill="#fff" /><rect x="580" y="308" width="1" height="43" fill="#000" /><rect x="578" y="334" width="5" height="17" fill="#000" /><rect x="579" y="335" width="3" height="15" fill="#fff" /><rect x="588" y="297" width="1" height="47" fill="#000" /><rect x="586" y="319" width="5" height="16" fill="#000" /><rect x="587" y="320" width="3" height="14" fill="#fff" /><rect x="596" y="296" width="1" height="33" fill="#000" /><rect x="594" y="297" width="5" height="24" fill="#000" /><rect x="595" y="298" width="3" height="22" fill="#fff" /><rect x="604" y="278" width="1" height="28" fill="#000" /><rect x="602" y="296" width="5" height="2" fill="#000" /><rect x="612" y="292" width="1" height="7" fill="#000" /><rect x="610" y="293" width="5" height="5" fill="#000" /><rect x="620" y="293" width="1" height="16" fill="#000" /><rect x="618" y="297" width="5" height="6" fill="#000" /><rect x="628" y="284" width="1" height="24" fill="#000" /><rect x="626" y="291" width="5" height="12" fill="#000" /><rect x="627" y="292" width="3" height="10" fill="#fff" /><rect x="636" y="290" width="1" height="41" fill="#000" /><rect x="634" y="291" width="5" height="13" fill="#000" /><rect x="644" y="298" width="1" height="31" fill="#000" /><rect x="642" y="302" width="5" height="2" fill="#000" /><rect x="652" y="300" width="1" height="24" fill="#000" /><rect x="650" y="301" width="5" height="12" fill="#000" /><rect x="660" y="309" width="1" height="3" fill="#000" /><rect x="658" y="310" width="5" height="1" fill="#000" /><rect x="668" y="303" width="1" height="24" fill="#000" /><rect x="666" y="310" width="5" height="13" fill="#000" /><rect x="676" y="320" width="1" height="53" fill="#000" /><rect x="674" y="322" width="5" height="36" fill="#000" /><rect x="684" y="338" width="1" height="32" fill="#000" /><rect x="682" y="349" width="5" height="8" fill="#000" /><rect x="683" y="350" width="3" height="6" fill="#fff" /><rect x="692" y="329" width="1" height="32" fill="#000" /><rect x="690" y="346" width="5" height="4" fill="#000" /><rect x="691" y="347" width="3" height="2" fill="#fff" /><rect x="700" y="342" width="1" height="19" fill="#000" /><rect x="698" y="345" width="5" height="9" fill="#000" /><rect x="708" y="346" width="1" height="5" fill="#000" /><rect x="706" y="347" width="5" height="3" fill="#000" /><rect x="707" y="348" width="3" height="1" fill="#fff" /><rect x="716" y="331" width="1" height="18" fill="#000" /><rect x="714" y="339" width="5" height="9" fill="#000" /><rect x="715" y="340" width="3" height="7" fill="#fff" /><rect x="724" y="332" width="1" height="22" fill="#000" /><rect x="722" y="339" width="5" height="14" fill="#000" /><rect x="732" y="345" width="1" height="27" fill="#000" /><rect x="730" y="347" width="5" height="6" fill="#000" /><rect x="731" y="348" width="3" height="4" fill="#fff" /><rect x="740" y="285" width="1" height="69" fill="#000" /><rect x="738" y="297" width="5" height="51" fill="#000" /><rect x="739" y="298" width="3" height="49" fill="#fff" /><rect x="748" y="294" width="1" height="43" fill="#000" /><rect x="746" y="297" width="5" height="39" fill="#000" /><rect x="756" y="341" width="1" height="9" fill="#000" /><rect x="754" y="343" width="5" height="5" fill="#000" /><rect x="764" y="340" width="1" height="18" fill="#000" /><rect x="762" y="347" width="5" height="5" fill="#000" /><rect x="772" y="341" width="1" height="20" fill="#000" /><rect x="770" y="351" width="5" height="9" fill="#000" /><rect x="780" y="359" width="1" height="45" fill="#000" /><rect x="778" y="359" width="5" height="39" fill="#000" /><rect x="788" y="370" width="1" height="31" fill="#000" /><rect x="786" y="379" width="5" height="19" fill="#000" /><rect x="787" y="380" width="3" height="17" fill="#fff" /><rect x="796" y="353" width="1" height="29" fill="#000" /><rect x="794" y="361" width="5" height="19" fill="#000" /><rect x="795" y="362" width="3" height="17" fill="#fff" /><rect x="804" y="351" width="1" height="8" fill="#000" /><rect x="802" y="351" width="5" height="5" fill="#000" /><rect x="803" y="352" width="3" height="3" fill="#fff" /><rect x="812" y="341" width="1" height="33" fill="#000" /><rect x="810" y="351" width="5" height="2" fill="#000" /><rect x="820" y="349" width="1" height="39" fill="#000" /><rect x="818" y="354" width="5" height="34" fill="#000" /><rect x="828" y="371" width="1" height="33" fill="#000" /><rect x="826" y="387" width="5" height="12" fill="#000" /><rect x="836" y="386" width="1" height="30" fill="#000" /><rect x="834" y="386" width="5" height="13" fill="#000" /><rect x="835" y="387" width="3" height="11" fill="#fff" /><rect x="844" y="384" width="1" height="36" fill="#000" /><rect x="842" y="386" width="5" height="34" fill="#000" /><rect x="852" y="425" width="1" height="7" fill="#000" /><rect x="850" y="427" width="5" height="4" fill="#000" /><rect x="860" y="388" width="1" height="42" fill="#000" /><rect x="858" y="394" width="5" height="36" fill="#000" /><rect x="859" y="395" width="3" height="34" fill="#fff" /><rect x="868" y="357" width="1" height="44" fill="#000" /><rect x="866" y="366" width="5" height="30" fill="#000" /><rect x="867" y="367" width="3" height="28" fill="#fff" /><rect x="876" y="360" width="1" height="25" fill="#000" /><rect x="874" y="366" width="5" height="13" fill="#000" /><rect x="884" y="371" width="1" height="19" fill="#000" /><rect x="882" y="378" width="5" height="4" fill="#000" /><rect x="892" y="375" width="1" height="28" fill="#000" /><rect x="890" y="380" width="5" height="16" fill="#000" /><rect x="900" y="386" width="1" height="6" fill="#000" /><rect x="898" y="387" width="5" height="3" fill="#000" /><rect x="899" y="388" width="3" height="1" fill="#fff" /><rect x="908" y="384" width="1" height="12" fill="#000" /><rect x="906" y="385" width="5" height="3" fill="#000" /><rect x="907" y="386" width="3" height="1" fill="#fff" /><rect x="916" y="344" width="1" height="42" fill="#000" /><rect x="914" y="356" width="5" height="30" fill="#000" /><rect x="915" y="357" width="3" height="28" fill="#fff" /><rect x="924" y="345" width="1" height="35" fill="#000" /><rect x="922" y="356" width="5" height="10" fill="#000" /><rect x="932" y="348" width="1" height="27" fill="#000" /><rect x="930" y="355" width="5" height="11" fill="#000" /><rect x="931" y="356" width="3" height="9" fill="#fff" /><rect x="940" y="334" width="1" height="42" fill="#000" /><rect x="938" y="349" width="5" height="7" fill="#000" /><rect x="939" y="350" width="3" height="5" fill="#fff" /><rect x="948" y="345" width="1" height="5" fill="#000" /><rect x="946" y="345" width="5" height="2" fill="#000" /><rect x="956" y="308" width="1" height="39" fill="#000" /><rect x="954" y="314" width="5" height="33" fill="#000" /><rect x="955" y="315" width="3" height="31" fill="#fff" /><rect x="964" y="249" width="1" height="66" fill="#000" /><rect x="962" y="249" width="5" height="66" fill="#000" /><rect x="963" y="250" width="3" height="64" fill="#fff" /><rect x="972" y="238" width="1" height="29" fill="#000" /><rect x="970" y="246" width="5" height="5" fill="#000" /><rect x="971" y="247" width="3" height="3" fill="#fff" /><rect x="980" y="228" width="1" height="46" fill="#000" /><rect x="978" y="233" width="5" height="14" fill="#000" /><rect x="979" y="234" width="3" height="12" fill="#fff" /><rect x="988" y="180" width="1" height="62" fill="#000" /><rect x="986" y="202" width="5" height="32" fill="#000" /><rect x="987" y="203" width="3" height="30" fill="#fff" /><rect x="996" y="184" width="1" height="11" fill="#000" /><rect x="994" y="188" width="5" height="7" fill="#000" /><rect x="995" y="189" width="3" height="5" fill="#fff" /><rect x="1004" y="188" width="1" height="50" fill="#000" /><rect x="1002" y="188" width="5" height="34" fill="#000" /><rect x="1012" y="218" width="1" height="49" fill="#000" /><rect x="1010" y="222" width="5" height="26" fill="#000" /><rect x="1020" y="237" width="1" height="36" fill="#000" /><rect x="1018" y="247" width="5" height="26" fill="#000" /><rect x="1028" y="261" width="1" height="58" fill="#000" /><rect x="1026" y="271" width="5" height="44" fill="#000" /><rect x="1036" y="271" width="1" height="56" fill="#000" /><rect x="1034" y="313" width="5" height="4" fill="#000" /><rect x="1044" y="309" width="1" height="10" fill="#000" /><rect x="1042" y="310" width="5" height="6" fill="#000" /><rect x="1052" y="276" width="1" height="58" fill="#000" /><rect x="1050" y="276" width="5" height="39" fill="#000" /><rect x="1051" y="277" width="3" height="37" fill="#fff" /><rect x="1060" y="263" width="1" height="41" fill="#000" /><rect x="1058" y="275" width="5" height="19" fill="#000" /><rect x="1068" y="293" width="1" height="27" fill="#000" /><rect x="1066" y="293" width="5" height="26" fill="#000" /><rect x="1076" y="312" width="1" height="49" fill="#000" /><rect x="1074" y="318" width="5" height="30" fill="#000" /><rect x="1084" y="339" width="1" height="33" fill="#000" /><rect x="1082" y="346" width="5" height="24" fill="#000" /><rect x="1092" y="371" width="1" height="5" fill="#000" /><rect x="1090" y="372" width="5" height="2" fill="#000" /><rect x="1100" y="328" width="1" height="49" fill="#000" /><rect x="1098" y="330" width="5" height="43" fill="#000" /><rect x="1099" y="331" width="3" height="41" fill="#fff" /><rect x="1108" y="321" width="1" height="35" fill="#000" /><rect x="1106" y="330" width="5" height="9" fill="#000" /><rect x="1116" y="330" width="1" height="24" fill="#000" /><rect x="1114" y="338" width="5" height="12" fill="#000" /><rect x="1124" y="330" width="1" height="21" fill="#000" /><rect x="1122" y="342" width="5" height="8" fill="#000" /><rect x="1123" y="343" width="3" height="6" fill="#fff" /><rect x="1132" y="339" width="1" height="31" fill="#000" /><rect x="1130" y="343" width="5" height="21" fill="#000" /><rect x="1140" y="362" width="1" height="4" fill="#000" /><rect x="1138" y="362" width="5" height="3" fill="#000" /><rect x="1139" y="363" width="3" height="1" fill="#fff" /><rect x="1148" y="353" width="1" height="19" fill="#000" /><rect x="1146" y="359" width="5" height="3" fill="#000" /><rect x="1147" y="360" width="3" height="1" fill="#fff" /><rect x="1156" y="324" width="1" height="46" fill="#000" /><rect x="1154" y="326" width="5" height="34" fill="#000" /><rect x="1155" y="327" width="3" height="32" fill="#fff" /><rect x="1164" y="315" width="1" height="33" fill="#000" /><rect x="1162" y="325" width="5" height="2" fill="#000" /><rect x="1172" y="304" width="1" height="23" fill="#000" /><rect x="1170" y="321" width="5" height="5" fill="#000" /><rect x="1171" y="322" width="3" height="3" fill="#fff" /><rect x="1180" y="316" width="1" height="13" fill="#000" /><rect x="1178" y="318" width="5" height="4" fill="#000" /><rect x="1179" y="319" width="3" height="2" fill="#fff" /><rect x="1188" y="315" width="1" height="3" fill="#000" /><rect x="1186" y="316" width="5" height="3" fill="#000" /><rect x="1187" y="317" width="3" height="1" fill="#fff" /><rect x="1196" y="304" width="1" height="17" fill="#000" /><rect x="1194" y="316" width="5" height="2" fill="#000" /><rect x="1204" y="286" width="1" height="32" fill="#000" /><rect x="1202" y="299" width="5" height="20" fill="#000" /><rect x="1203" y="300" width="3" height="18" fill="#fff" /><rect x="1212" y="286" width="1" height="22" fill="#000" /><rect x="1210" y="289" width="5" height="11" fill="#000" /><rect x="1211" y="290" width="3" height="9" fill="#fff" /><rect x="1220" y="274" width="1" height="22" fill="#000" /><rect x="1218" y="289" width="5" height="4" fill="#000" /><rect x="1228" y="291" width="1" height="24" fill="#000" /><rect x="1226" y="292" width="5" height="5" fill="#000" /><rect x="1236" y="294" width="1" height="5" fill="#000" /><rect x="1234" y="295" width="5" height="3" fill="#000" /><rect x="1244" y="284" width="1" height="23" fill="#000" /><rect x="1242" y="296" width="5" height="10" fill="#000" /><rect x="1252" y="299" width="1" height="23" fill="#000" /><rect x="1250" y="301" width="5" height="5" fill="#000" /><rect x="1251" y="302" width="3" height="3" fill="#fff" /><rect x="1260" y="294" width="1" height="16" fill="#000" /><rect x="1258" y="301" width="5" height="6" fill="#000" /><rect x="1268" y="292" width="1" height="29" fill="#000" /><rect x="1266" y="303" width="5" height="5" fill="#000" /><rect x="1267" y="304" width="3" height="3" fill="#fff" /><rect x="1276" y="299" width="1" height="20" fill="#000" /><rect x="1274" y="303" width="5" height="9" fill="#000" /><rect x="1284" y="305" width="1" height="5" fill="#000" /><rect x="1282" y="305" width="5" height="4" fill="#000" /><rect x="1283" y="306" width="3" height="2" fill="#fff" /><rect x="1292" y="274" width="1" height="39" fill="#000" /><rect x="1290" y="279" width="5" height="28" fill="#000" /><rect x="1291" y="280" width="3" height="26" fill="#fff" /><rect x="1300" y="261" width="1" height="18" fill="#000" /><rect x="1298" y="271" width="5" height="9" fill="#000" /><rect x="1299" y="272" width="3" height="7" fill="#fff" /><rect x="1308" y="257" width="1" height="33" fill="#000" /><rect x="1306" y="262" width="5" height="11" fill="#000" /><rect x="1307" y="263" width="3" height="9" fill="#fff" /><rect x="1316" y="257" width="1" height="20" fill="#000" /><rect x="1314" y="262" width="5" height="11" fill="#000" /><rect x="1324" y="271" width="1" height="26" fill="#000" /><rect x="1322" y="272" width="5" height="11" fill="#000" /><rect x="1332" y="278" width="1" height="7" fill="#000" /><rect x="1330" y="281" width="5" height="2" fill="#000" /><rect x="1340" y="276" width="1" height="18" fill="#000" /><rect x="1338" y="280" width="5" height="2" fill="#000" /><rect x="1348" y="269" width="1" height="20" fill="#000" /><rect x="1346" y="275" width="5" height="6" fill="#000" /><rect x="1347" y="276" width="3" height="4" fill="#fff" /><rect x="1356" y="260" width="1" height="21" fill="#000" /><rect x="1354" y="264" width="5" height="13" fill="#000" /><rect x="1355" y="265" width="3" height="11" fill="#fff" /><rect x="1364" y="239" width="1" height="32" fill="#000" /><rect x="1362" y="240" width="5" height="25" fill="#000" /><rect x="1363" y="241" width="3" height="23" fill="#fff" /><rect x="1372" y="193" width="1" height="60" fill="#000" /><rect x="1370" y="208" width="5" height="33" fill="#000" /><rect x="1371" y="209" width="3" height="31" fill="#fff" /><rect x="1380" y="205" width="1" height="5" fill="#000" /><rect x="1378" y="206" width="5" height="5" fill="#000" /><rect x="1379" y="207" width="3" height="3" fill="#fff" /><rect x="1388" y="198" width="1" height="32" fill="#000" /><rect x="1386" y="206" width="5" height="2" fill="#000" /><rect x="1396" y="201" width="1" height="28" fill="#000" /><rect x="1394" y="207" width="5" height="12" fill="#000" /><rect x="1404" y="198" width="1" height="25" fill="#000" /><rect x="1402" y="209" width="5" height="10" fill="#000" /><rect x="1403" y="210" width="3" height="8" fill="#fff" /><rect x="1412" y="193" width="1" height="20" fill="#000" /><rect x="1410" y="205" width="5" height="5" fill="#000" /><rect x="1411" y="206" width="3" height="3" fill="#fff" /><rect x="1420" y="205" width="1" height="23" fill="#000" /><rect x="1418" y="205" width="5" height="12" fill="#000" /><rect x="1428" y="218" width="1" height="3" fill="#000" /><rect x="1426" y="219" width="5" height="1" fill="#000" /><rect x="1436" y="207" width="1" height="14" fill="#000" /><rect x="1434" y="211" width="5" height="9" fill="#000" /><rect x="1435" y="212" width="3" height="7" fill="#fff" /></g><rect x="1322" y="231" width="147" height="8" fill="#00ff00" /><rect x="1213" y="234" width="10" height="1" fill="#ff0000" /><rect x="1223.5" y="222.5" width="73" height="24" fill="#fff" stroke="#ff0000" stroke-width="1"/><text x="1225" y="243.5" font-size="22" fill="#ff0000" textLength="70" lengthAdjust="spacingAndGlyphs" >137.523</text><text x="1522" y="240" font-size="21" fill="#00ff00" textLength="111" lengthAdjust="spacingAndGlyphs" font-family="Liberation Serif, serif">多空转折点</text><polygon points="1444,26 1452,26 1448,30" fill="#a0a0a0"/><rect x="0" y="25" width="1688" height="1" fill="#000" /><rect x="0" y="578" width="1688" height="1" fill="#000" /><rect x="1687" y="25" width="1" height="554" fill="#000" /><rect x="1688" y="47" width="2" height="1" fill="#000" /><text x="1693" y="51" font-size="9.7" fill="#000" transform="translate(1693,51) scale(0.94,1) translate(-1693,-51)">145.160</text><rect x="1688" y="80" width="2" height="1" fill="#000" /><text x="1693" y="84" font-size="9.7" fill="#000" transform="translate(1693,84) scale(0.94,1) translate(-1693,-84)">143.800</text><rect x="1688" y="113" width="2" height="1" fill="#000" /><text x="1693" y="117" font-size="9.7" fill="#000" transform="translate(1693,117) scale(0.94,1) translate(-1693,-117)">142.480</text><rect x="1688" y="245" width="2" height="1" fill="#000" /><text x="1693" y="249" font-size="9.7" fill="#000" transform="translate(1693,249) scale(0.94,1) translate(-1693,-249)">137.080</text><rect x="1688" y="278" width="2" height="1" fill="#000" /><text x="1693" y="282" font-size="9.7" fill="#000" transform="translate(1693,282) scale(0.94,1) translate(-1693,-282)">135.720</text><rect x="1688" y="311" width="2" height="1" fill="#000" /><text x="1693" y="315" font-size="9.7" fill="#000" transform="translate(1693,315) scale(0.94,1) translate(-1693,-315)">134.400</text><rect x="1688" y="344" width="2" height="1" fill="#000" /><text x="1693" y="348" font-size="9.7" fill="#000" transform="translate(1693,348) scale(0.94,1) translate(-1693,-348)">133.040</text><rect x="1688" y="377" width="2" height="1" fill="#000" /><text x="1693" y="381" font-size="9.7" fill="#000" transform="translate(1693,381) scale(0.94,1) translate(-1693,-381)">131.680</text><rect x="1688" y="410" width="2" height="1" fill="#000" /><text x="1693" y="414" font-size="9.7" fill="#000" transform="translate(1693,414) scale(0.94,1) translate(-1693,-414)">130.360</text><rect x="1688" y="443" width="2" height="1" fill="#000" /><text x="1693" y="447" font-size="9.7" fill="#000" transform="translate(1693,447) scale(0.94,1) translate(-1693,-447)">129.000</text><rect x="1688" y="476" width="2" height="1" fill="#000" /><text x="1693" y="480" font-size="9.7" fill="#000" transform="translate(1693,480) scale(0.94,1) translate(-1693,-480)">127.640</text><rect x="1688" y="509" width="2" height="1" fill="#000" /><text x="1693" y="513" font-size="9.7" fill="#000" transform="translate(1693,513) scale(0.94,1) translate(-1693,-513)">126.320</text><rect x="1688" y="543" width="2" height="1" fill="#000" /><text x="1693" y="547" font-size="9.7" fill="#000" transform="translate(1693,547) scale(0.94,1) translate(-1693,-547)">124.960</text><rect x="1688" y="575" width="2" height="1" fill="#000" /><text x="1693" y="579" font-size="9.7" fill="#000" transform="translate(1693,579) scale(0.94,1) translate(-1693,-579)">123.640</text><rect x="1688" y="146" width="3" height="1" fill="#000" /><rect x="1689" y="142" width="41" height="11" fill="#ff0000" /><text x="1693" y="152" font-size="9.7" fill="#fff" transform="translate(1693,152) scale(0.94,1) translate(-1693,-152)">141.024</text><rect x="1688" y="179" width="3" height="1" fill="#000" /><rect x="1689" y="175" width="41" height="11" fill="#ff0000" /><text x="1693" y="185" font-size="9.7" fill="#fff" transform="translate(1693,185) scale(0.94,1) translate(-1693,-185)">139.680</text><rect x="1688" y="209" width="3" height="1" fill="#000" /><rect x="1689" y="205" width="41" height="11" fill="#000000" /><text x="1693" y="215" font-size="9.7" fill="#fff" transform="translate(1693,215) scale(0.94,1) translate(-1693,-215)">138.482</text><rect x="1688" y="232" width="3" height="1" fill="#000" /><rect x="1689" y="228" width="41" height="11" fill="#32cd32" /><text x="1693" y="238" font-size="9.7" fill="#fff" transform="translate(1693,238) scale(0.94,1) translate(-1693,-238)">137.523</text><rect x="1688" y="257" width="3" height="1" fill="#000" /><rect x="1689" y="253" width="41" height="11" fill="#0000ff" /><text x="1693" y="263" font-size="9.7" fill="#fff" transform="translate(1693,263) scale(0.94,1) translate(-1693,-263)">136.505</text><rect x="1688" y="286" width="3" height="1" fill="#000" /><rect x="1689" y="282" width="41" height="11" fill="#0000ff" /><text x="1693" y="292" font-size="9.7" fill="#fff" transform="translate(1693,292) scale(0.94,1) translate(-1693,-292)">135.325</text><polygon points="0,36 3,32 6,36" fill="#000"/><text x="11" y="37" font-size="9.4" fill="#000" textLength="209" lengthAdjust="spacingAndGlyphs" xml:space="preserve">GBPJPY-,Daily  138.149 138.629 138.090 138.482</text><rect x="0" y="580" width="1688" height="1" fill="#000" /><rect x="0" y="750" width="1688" height="1" fill="#000" /><rect x="1687" y="580" width="1" height="171" fill="#000" /><g clip-path="url(#cmacd)"><rect x="4" y="638" width="1" height="1" fill="#c0c0c0" /><rect x="12" y="637" width="1" height="2" fill="#c0c0c0" /><rect x="20" y="636" width="1" height="3" fill="#c0c0c0" /><rect x="28" y="634" width="1" height="5" fill="#c0c0c0" /><rect x="36" y="633" width="1" height="6" fill="#c0c0c0" /><rect x="44" y="633" width="1" height="6" fill="#c0c0c0" /><rect x="52" y="634" width="1" height="5" fill="#c0c0c0" /><rect x="60" y="634" width="1" height="5" fill="#c0c0c0" /><rect x="68" y="631" width="1" height="8" fill="#c0c0c0" /><rect x="76" y="631" width="1" height="8" fill="#c0c0c0" /><rect x="84" y="633" width="1" height="6" fill="#c0c0c0" /><rect x="92" y="636" width="1" height="3" fill="#c0c0c0" /><rect x="100" y="638" width="1" height="1" fill="#c0c0c0" /><rect x="108" y="638" width="1" height="1" fill="#c0c0c0" /><rect x="116" y="638" width="1" height="3" fill="#c0c0c0" /><rect x="124" y="638" width="1" height="3" fill="#c0c0c0" /><rect x="132" y="638" width="1" height="3" fill="#c0c0c0" /><rect x="140" y="638" width="1" height="2" fill="#c0c0c0" /><rect x="148" y="638" width="1" height="6" fill="#c0c0c0" /><rect x="156" y="638" width="1" height="5" fill="#c0c0c0" /><rect x="164" y="638" width="1" height="4" fill="#c0c0c0" /><rect x="172" y="638" width="1" height="4" fill="#c0c0c0" /><rect x="180" y="638" width="1" height="7" fill="#c0c0c0" /><rect x="188" y="638" width="1" height="9" fill="#c0c0c0" /><rect x="196" y="638" width="1" height="9" fill="#c0c0c0" /><rect x="204" y="638" width="1" height="8" fill="#c0c0c0" /><rect x="212" y="638" width="1" height="7" fill="#c0c0c0" /><rect x="220" y="638" width="1" height="4" fill="#c0c0c0" /><rect x="228" y="638" width="1" height="2" fill="#c0c0c0" /><rect x="244" y="638" width="1" height="1" fill="#c0c0c0" /><rect x="252" y="637" width="1" height="2" fill="#c0c0c0" /><rect x="260" y="635" width="1" height="4" fill="#c0c0c0" /><rect x="268" y="632" width="1" height="7" fill="#c0c0c0" /><rect x="276" y="628" width="1" height="11" fill="#c0c0c0" /><rect x="284" y="626" width="1" height="13" fill="#c0c0c0" /><rect x="292" y="628" width="1" height="11" fill="#c0c0c0" /><rect x="300" y="629" width="1" height="10" fill="#c0c0c0" /><rect x="308" y="632" width="1" height="7" fill="#c0c0c0" /><rect x="316" y="637" width="1" height="2" fill="#c0c0c0" /><rect x="324" y="638" width="1" height="10" fill="#c0c0c0" /><rect x="332" y="638" width="1" height="20" fill="#c0c0c0" /><rect x="340" y="638" width="1" height="26" fill="#c0c0c0" /><rect x="348" y="638" width="1" height="33" fill="#c0c0c0" /><rect x="356" y="638" width="1" height="35" fill="#c0c0c0" /><rect x="364" y="638" width="1" height="39" fill="#c0c0c0" /><rect x="372" y="638" width="1" height="43" fill="#c0c0c0" /><rect x="380" y="638" width="1" height="47" fill="#c0c0c0" /><rect x="388" y="638" width="1" height="54" fill="#c0c0c0" /><rect x="396" y="638" width="1" height="56" fill="#c0c0c0" /><rect x="404" y="638" width="1" height="61" fill="#c0c0c0" /><rect x="412" y="638" width="1" height="70" fill="#c0c0c0" /><rect x="420" y="638" width="1" height="73" fill="#c0c0c0" /><rect x="428" y="638" width="1" height="76" fill="#c0c0c0" /><rect x="436" y="638" width="1" height="83" fill="#c0c0c0" /><rect x="444" y="638" width="1" height="87" fill="#c0c0c0" /><rect x="452" y="638" width="1" height="100" fill="#c0c0c0" /><rect x="460" y="638" width="1" height="104" fill="#c0c0c0" /><rect x="468" y="638" width="1" height="104" fill="#c0c0c0" /><rect x="476" y="638" width="1" height="104" fill="#c0c0c0" /><rect x="484" y="638" width="1" height="102" fill="#c0c0c0" /><rect x="492" y="638" width="1" height="93" fill="#c0c0c0" /><rect x="500" y="638" width="1" height="85" fill="#c0c0c0" /><rect x="508" y="638" width="1" height="73" fill="#c0c0c0" /><rect x="516" y="638" width="1" height="59" fill="#c0c0c0" /><rect x="524" y="638" width="1" height="49" fill="#c0c0c0" /><rect x="532" y="638" width="1" height="41" fill="#c0c0c0" /><rect x="540" y="638" width="1" height="36" fill="#c0c0c0" /><rect x="548" y="638" width="1" height="32" fill="#c0c0c0" /><rect x="556" y="638" width="1" height="26" fill="#c0c0c0" /><rect x="564" y="638" width="1" height="24" fill="#c0c0c0" /><rect x="572" y="638" width="1" height="22" fill="#c0c0c0" /><rect x="580" y="638" width="1" height="18" fill="#c0c0c0" /><rect x="588" y="638" width="1" height="14" fill="#c0c0c0" /><rect x="596" y="638" width="1" height="8" fill="#c0c0c0" /><rect x="604" y="638" width="1" height="4" fill="#c0c0c0" /><rect x="620" y="637" width="1" height="2" fill="#c0c0c0" /><rect x="628" y="634" width="1" height="5" fill="#c0c0c0" /><rect x="636" y="633" width="1" height="6" fill="#c0c0c0" /><rect x="644" y="632" width="1" height="7" fill="#c0c0c0" /><rect x="652" y="632" width="1" height="7" fill="#c0c0c0" /><rect x="660" y="633" width="1" height="6" fill="#c0c0c0" /><rect x="668" y="634" width="1" height="5" fill="#c0c0c0" /><rect x="684" y="638" width="1" height="2" fill="#c0c0c0" /><rect x="692" y="638" width="1" height="4" fill="#c0c0c0" /><rect x="700" y="638" width="1" height="6" fill="#c0c0c0" /><rect x="708" y="638" width="1" height="7" fill="#c0c0c0" /><rect x="716" y="638" width="1" height="7" fill="#c0c0c0" /><rect x="724" y="638" width="1" height="8" fill="#c0c0c0" /><rect x="732" y="638" width="1" height="9" fill="#c0c0c0" /><rect x="740" y="638" width="1" height="4" fill="#c0c0c0" /><rect x="748" y="638" width="1" height="4" fill="#c0c0c0" /><rect x="756" y="638" width="1" height="5" fill="#c0c0c0" /><rect x="764" y="638" width="1" height="6" fill="#c0c0c0" /><rect x="772" y="638" width="1" height="8" fill="#c0c0c0" /><rect x="780" y="638" width="1" height="13" fill="#c0c0c0" /><rect x="788" y="638" width="1" height="15" fill="#c0c0c0" /><rect x="796" y="638" width="1" height="14" fill="#c0c0c0" /><rect x="804" y="638" width="1" height="13" fill="#c0c0c0" /><rect x="812" y="638" width="1" height="12" fill="#c0c0c0" /><rect x="820" y="638" width="1" height="14" fill="#c0c0c0" /><rect x="828" y="638" width="1" height="17" fill="#c0c0c0" /><rect x="836" y="638" width="1" height="17" fill="#c0c0c0" /><rect x="844" y="638" width="1" height="21" fill="#c0c0c0" /><rect x="852" y="638" width="1" height="25" fill="#c0c0c0" /><rect x="860" y="638" width="1" height="24" fill="#c0c0c0" /><rect x="868" y="638" width="1" height="20" fill="#c0c0c0" /><rect x="876" y="638" width="1" height="18" fill="#c0c0c0" /><rect x="884" y="638" width="1" height="17" fill="#c0c0c0" /><rect x="892" y="638" width="1" height="17" fill="#c0c0c0" /><rect x="900" y="638" width="1" height="16" fill="#c0c0c0" /><rect x="908" y="638" width="1" height="15" fill="#c0c0c0" /><rect x="916" y="638" width="1" height="11" fill="#c0c0c0" /><rect x="924" y="638" width="1" height="9" fill="#c0c0c0" /><rect x="932" y="638" width="1" height="6" fill="#c0c0c0" /><rect x="940" y="638" width="1" height="3" fill="#c0c0c0" /><rect x="956" y="634" width="1" height="5" fill="#c0c0c0" /><rect x="964" y="624" width="1" height="15" fill="#c0c0c0" /><rect x="972" y="616" width="1" height="23" fill="#c0c0c0" /><rect x="980" y="608" width="1" height="31" fill="#c0c0c0" /><rect x="988" y="600" width="1" height="39" fill="#c0c0c0" /><rect x="996" y="592" width="1" height="47" fill="#c0c0c0" /><rect x="1004" y="590" width="1" height="49" fill="#c0c0c0" /><rect x="1012" y="591" width="1" height="48" fill="#c0c0c0" /><rect x="1020" y="595" width="1" height="44" fill="#c0c0c0" /><rect x="1028" y="603" width="1" height="36" fill="#c0c0c0" /><rect x="1036" y="610" width="1" height="29" fill="#c0c0c0" /><rect x="1044" y="615" width="1" height="24" fill="#c0c0c0" /><rect x="1052" y="616" width="1" height="23" fill="#c0c0c0" /><rect x="1060" y="619" width="1" height="20" fill="#c0c0c0" /><rect x="1068" y="623" width="1" height="16" fill="#c0c0c0" /><rect x="1076" y="630" width="1" height="9" fill="#c0c0c0" /><rect x="1084" y="637" width="1" height="2" fill="#c0c0c0" /><rect x="1092" y="638" width="1" height="5" fill="#c0c0c0" /><rect x="1100" y="638" width="1" height="5" fill="#c0c0c0" /><rect x="1108" y="638" width="1" height="6" fill="#c0c0c0" /><rect x="1116" y="638" width="1" height="8" fill="#c0c0c0" /><rect x="1124" y="638" width="1" height="9" fill="#c0c0c0" /><rect x="1132" y="638" width="1" height="12" fill="#c0c0c0" /><rect x="1140" y="638" width="1" height="14" fill="#c0c0c0" /><rect x="1148" y="638" width="1" height="14" fill="#c0c0c0" /><rect x="1156" y="638" width="1" height="12" fill="#c0c0c0" /><rect x="1164" y="638" width="1" height="10" fill="#c0c0c0" /><rect x="1172" y="638" width="1" height="7" fill="#c0c0c0" /><rect x="1180" y="638" width="1" height="5" fill="#c0c0c0" /><rect x="1188" y="638" width="1" height="3" fill="#c0c0c0" /><rect x="1196" y="638" width="1" height="2" fill="#c0c0c0" /><rect x="1204" y="638" width="1" height="1" fill="#c0c0c0" /><rect x="1212" y="634" width="1" height="5" fill="#c0c0c0" /><rect x="1220" y="632" width="1" height="7" fill="#c0c0c0" /><rect x="1228" y="631" width="1" height="8" fill="#c0c0c0" /><rect x="1236" y="630" width="1" height="9" fill="#c0c0c0" /><rect x="1244" y="630" width="1" height="9" fill="#c0c0c0" /><rect x="1252" y="630" width="1" height="9" fill="#c0c0c0" /><rect x="1260" y="631" width="1" height="8" fill="#c0c0c0" /><rect x="1268" y="631" width="1" height="8" fill="#c0c0c0" /><rect x="1276" y="632" width="1" height="7" fill="#c0c0c0" /><rect x="1284" y="632" width="1" height="7" fill="#c0c0c0" /><rect x="1292" y="630" width="1" height="9" fill="#c0c0c0" /><rect x="1300" y="628" width="1" height="11" fill="#c0c0c0" /><rect x="1308" y="625" width="1" height="14" fill="#c0c0c0" /><rect x="1316" y="624" width="1" height="15" fill="#c0c0c0" /><rect x="1324" y="624" width="1" height="15" fill="#c0c0c0" /><rect x="1332" y="625" width="1" height="14" fill="#c0c0c0" /><rect x="1340" y="625" width="1" height="14" fill="#c0c0c0" /><rect x="1348" y="625" width="1" height="14" fill="#c0c0c0" /><rect x="1356" y="624" width="1" height="15" fill="#c0c0c0" /><rect x="1364" y="621" width="1" height="18" fill="#c0c0c0" /><rect x="1372" y="616" width="1" height="23" fill="#c0c0c0" /><rect x="1380" y="612" width="1" height="27" fill="#c0c0c0" /><rect x="1388" y="609" width="1" height="30" fill="#c0c0c0" /><rect x="1396" y="609" width="1" height="30" fill="#c0c0c0" /><rect x="1404" y="607" width="1" height="32" fill="#c0c0c0" /><rect x="1412" y="607" width="1" height="32" fill="#c0c0c0" /><rect x="1420" y="607" width="1" height="32" fill="#c0c0c0" /><rect x="1428" y="609" width="1" height="30" fill="#c0c0c0" /><rect x="1436" y="609" width="1" height="30" fill="#c0c0c0" /><polyline points="-3.5,637.7 4.5,638.3 12.5,638.4 20.5,637.9 28.5,637.1 36.5,636.1 44.5,635.4 52.5,635.0 60.5,634.5 68.5,633.8 76.5,633.1 84.5,632.7 92.5,632.6 100.5,633.1 108.5,633.9 116.5,634.9 124.5,635.9 132.5,636.8 140.5,637.8 148.5,639.4 156.5,640.6 164.5,641.4 172.5,642.0 180.5,642.6 188.5,643.2 196.5,643.8 204.5,644.4 212.5,644.9 220.5,644.7 228.5,644.3 236.5,643.9 244.5,643.3 252.5,642.3 260.5,640.9 268.5,639.1 276.5,637.1 284.5,634.9 292.5,633.2 300.5,631.9 308.5,631.1 316.5,631.0 324.5,632.3 332.5,635.0 340.5,638.7 348.5,643.5 356.5,648.8 364.5,654.4 372.5,660.3 380.5,666.3 388.5,672.5 396.5,677.6 404.5,682.2 412.5,687.1 420.5,691.5 428.5,696.1 436.5,701.1 444.5,706.0 452.5,711.8 460.5,717.4 468.5,722.7 476.5,727.5 484.5,731.0 492.5,733.3 500.5,734.2 508.5,733.1 516.5,729.9 524.5,724.3 532.5,717.4 540.5,709.8 548.5,701.8 556.5,693.3 564.5,685.6 572.5,678.6 580.5,672.6 588.5,667.6 596.5,663.0 604.5,658.8 612.5,654.9 620.5,651.1 628.5,647.6 636.5,644.3 644.5,641.1 652.5,638.3 660.5,636.1 668.5,634.6 676.5,634.1 684.5,634.4 692.5,635.1 700.5,636.4 708.5,637.9 716.5,639.5 724.5,641.1 732.5,642.8 740.5,643.8 748.5,644.3 756.5,644.6 764.5,644.8 772.5,644.9 780.5,645.5 788.5,646.3 796.5,647.0 804.5,647.4 812.5,648.3 820.5,649.4 828.5,650.7 836.5,652.0 844.5,653.5 852.5,654.8 860.5,655.9 868.5,656.5 876.5,657.2 884.5,657.7 892.5,658.1 900.5,658.0 908.5,657.7 916.5,656.5 924.5,654.7 932.5,652.7 940.5,650.8 948.5,648.8 956.5,646.4 964.5,642.8 972.5,638.4 980.5,633.3 988.5,627.8 996.5,621.6 1004.5,615.5 1012.5,609.8 1020.5,605.0 1028.5,601.5 1036.5,600.0 1044.5,599.9 1052.5,600.8 1060.5,602.9 1068.5,606.4 1076.5,610.9 1084.5,616.0 1092.5,621.4 1100.5,625.9 1108.5,629.9 1116.5,633.5 1124.5,637.1 1132.5,640.6 1140.5,643.9 1148.5,646.5 1156.5,648.0 1164.5,648.6 1172.5,648.8 1180.5,648.6 1188.5,648.0 1196.5,647.2 1204.5,645.7 1212.5,643.7 1220.5,641.3 1228.5,639.1 1236.5,637.1 1244.5,635.3 1252.5,633.8 1260.5,632.5 1268.5,631.4 1276.5,630.8 1284.5,630.6 1292.5,630.3 1300.5,630.0 1308.5,629.4 1316.5,628.7 1324.5,628.1 1332.5,627.4 1340.5,626.8 1348.5,626.1 1356.5,625.2 1364.5,624.2 1372.5,623.0 1380.5,621.5 1388.5,619.9 1396.5,618.1 1404.5,616.2 1412.5,614.1 1420.5,612.1 1428.5,610.3 1436.5,609.0" fill="none" stroke="#ff0000" stroke-width="1" stroke-dasharray="3,3"/></g><rect x="1688" y="582" width="2" height="1" fill="#000" /><text x="1691" y="591" font-size="9.7" fill="#000" transform="translate(1691,591) scale(0.94,1) translate(-1691,-591)">1.894</text><rect x="1688" y="638" width="2" height="1" fill="#000" /><text x="1691" y="642" font-size="9.7" fill="#000" transform="translate(1691,642) scale(0.94,1) translate(-1691,-642)">0.00</text><rect x="1688" y="749" width="2" height="1" fill="#000" /><text x="1691" y="748" font-size="9.7" fill="#000" transform="translate(1691,748) scale(0.94,1) translate(-1691,-748)">-3.7183</text><text x="1" y="593" font-size="10" fill="#000" textLength="126" lengthAdjust="spacingAndGlyphs">MACD(12,26,9) 0.9957 0.9825</text><rect x="0" y="752" width="1688" height="1" fill="#000" /><rect x="0" y="926" width="1688" height="1" fill="#000" /><rect x="1687" y="752" width="1" height="175" fill="#000" /><line x1="3" y1="788.5" x2="1687" y2="788.5" stroke="#a9a9a9" stroke-width="1" stroke-dasharray="3,3" shape-rendering="crispEdges"/><line x1="3" y1="839.5" x2="1687" y2="839.5" stroke="#a9a9a9" stroke-width="1" stroke-dasharray="3,3" shape-rendering="crispEdges"/><line x1="3" y1="900.5" x2="1687" y2="900.5" stroke="#a9a9a9" stroke-width="1" stroke-dasharray="3,3" shape-rendering="crispEdges"/><g clip-path="url(#crsi)"><polyline points="-3.5,839.9 4.5,837.9 12.5,835.1 20.5,832.7 28.5,824.5 36.5,833.2 44.5,834.1 52.5,837.5 60.5,833.9 68.5,822.8 76.5,830.4 84.5,842.2 92.5,851.7 100.5,849.2 108.5,850.7 116.5,853.8 124.5,844.5 132.5,838.1 140.5,839.9 148.5,859.9 156.5,839.9 164.5,839.3 172.5,845.6 180.5,853.7 188.5,854.9 196.5,848.1 204.5,841.2 212.5,841.2 220.5,830.2 228.5,832.5 236.5,829.6 244.5,836.2 252.5,836.2 260.5,824.9 268.5,819.6 276.5,813.9 284.5,819.6 292.5,837.5 300.5,835.5 308.5,847.6 316.5,859.1 324.5,879.7 332.5,880.1 340.5,871.4 348.5,878.2 356.5,862.8 364.5,868.7 372.5,872.2 380.5,875.9 388.5,881.8 396.5,873.0 404.5,879.6 412.5,887.6 420.5,873.7 428.5,877.6 436.5,883.1 444.5,883.6 452.5,894.2 460.5,878.1 468.5,873.1 476.5,874.3 484.5,872.2 492.5,855.3 500.5,853.3 508.5,843.1 516.5,835.6 524.5,839.5 532.5,840.2 540.5,841.8 548.5,845.2 556.5,838.5 564.5,844.7 572.5,844.9 580.5,840.4 588.5,836.3 596.5,830.5 604.5,830.5 612.5,830.5 620.5,832.3 628.5,828.9 636.5,833.7 644.5,833.7 652.5,837.5 660.5,836.7 668.5,842.0 676.5,855.2 684.5,851.5 692.5,850.0 700.5,852.7 708.5,849.6 716.5,845.3 724.5,851.1 732.5,848.3 740.5,825.9 748.5,842.2 756.5,846.6 764.5,848.1 772.5,851.1 780.5,863.4 788.5,854.9 796.5,847.2 804.5,843.1 812.5,843.5 820.5,856.0 828.5,859.4 836.5,853.7 844.5,863.7 852.5,866.6 860.5,850.6 868.5,840.2 876.5,844.3 884.5,845.3 892.5,850.1 900.5,846.7 908.5,845.8 916.5,834.1 924.5,837.9 932.5,833.9 940.5,831.6 948.5,830.4 956.5,818.8 964.5,802.6 972.5,802.0 980.5,799.4 988.5,793.8 996.5,791.6 1004.5,808.3 1012.5,819.5 1020.5,829.1 1028.5,842.7 1036.5,843.3 1044.5,843.0 1052.5,830.6 1060.5,836.5 1068.5,844.4 1076.5,852.5 1084.5,858.0 1092.5,859.0 1100.5,843.9 1108.5,846.2 1116.5,849.4 1124.5,846.9 1132.5,853.1 1140.5,852.7 1148.5,851.5 1156.5,838.5 1164.5,838.5 1172.5,836.6 1180.5,835.4 1188.5,834.6 1196.5,835.1 1204.5,827.2 1212.5,823.2 1220.5,825.0 1228.5,827.5 1236.5,828.1 1244.5,833.3 1252.5,831.1 1260.5,834.5 1268.5,832.7 1276.5,838.4 1284.5,834.4 1292.5,819.9 1300.5,816.1 1308.5,812.1 1316.5,820.2 1324.5,827.8 1332.5,827.8 1340.5,827.2 1348.5,823.5 1356.5,817.2 1364.5,806.1 1372.5,795.5 1380.5,795.0 1388.5,795.9 1396.5,806.1 1404.5,802.7 1412.5,801.2 1420.5,811.4 1428.5,814.1 1436.5,810.3" fill="none" stroke="#1e90ff" stroke-width="1" /></g><rect x="1688" y="754" width="2" height="1" fill="#000" /><text x="1691" y="763" font-size="9.7" fill="#000" transform="translate(1691,763) scale(0.94,1) translate(-1691,-763)">100</text><rect x="1688" y="788" width="2" height="1" fill="#000" /><text x="1691" y="792" font-size="9.7" fill="#000" transform="translate(1691,792) scale(0.94,1) translate(-1691,-792)">80</text><rect x="1688" y="839" width="2" height="1" fill="#000" /><text x="1691" y="843" font-size="9.7" fill="#000" transform="translate(1691,843) scale(0.94,1) translate(-1691,-843)">50</text><rect x="1688" y="900" width="2" height="1" fill="#000" /><text x="1691" y="904" font-size="9.7" fill="#000" transform="translate(1691,904) scale(0.94,1) translate(-1691,-904)">15</text><text x="1691" y="923.5" font-size="9.7" fill="#000" transform="translate(1691,923.5) scale(0.94,1) translate(-1691,-923.5)">0</text><text x="1" y="766" font-size="10" fill="#000" textLength="67" lengthAdjust="spacingAndGlyphs">RSI(14) 67.4016</text><rect x="60" y="927" width="1" height="3" fill="#000" /><text x="59" y="939" font-size="9.7" fill="#000" transform="translate(59,939) scale(0.94,1) translate(-59,-939)">21 Jan 2020</text><rect x="124" y="927" width="1" height="3" fill="#000" /><text x="123" y="939" font-size="9.7" fill="#000" transform="translate(123,939) scale(0.94,1) translate(-123,-939)">30 Jan 2020</text><rect x="188" y="927" width="1" height="3" fill="#000" /><text x="187" y="939" font-size="9.7" fill="#000" transform="translate(187,939) scale(0.94,1) translate(-187,-939)">9 Feb 2020</text><rect x="252" y="927" width="1" height="3" fill="#000" /><text x="251" y="939" font-size="9.7" fill="#000" transform="translate(251,939) scale(0.94,1) translate(-251,-939)">18 Feb 2020</text><rect x="316" y="927" width="1" height="3" fill="#000" /><text x="315" y="939" font-size="9.7" fill="#000" transform="translate(315,939) scale(0.94,1) translate(-315,-939)">27 Feb 2020</text><rect x="380" y="927" width="1" height="3" fill="#000" /><text x="379" y="939" font-size="9.7" fill="#000" transform="translate(379,939) scale(0.94,1) translate(-379,-939)">8 Mar 2020</text><rect x="444" y="927" width="1" height="3" fill="#000" /><text x="443" y="939" font-size="9.7" fill="#000" transform="translate(443,939) scale(0.94,1) translate(-443,-939)">17 Mar 2020</text><rect x="508" y="927" width="1" height="3" fill="#000" /><text x="507" y="939" font-size="9.7" fill="#000" transform="translate(507,939) scale(0.94,1) translate(-507,-939)">26 Mar 2020</text><rect x="572" y="927" width="1" height="3" fill="#000" /><text x="571" y="939" font-size="9.7" fill="#000" transform="translate(571,939) scale(0.94,1) translate(-571,-939)">5 Apr 2020</text><rect x="636" y="927" width="1" height="3" fill="#000" /><text x="635" y="939" font-size="9.7" fill="#000" transform="translate(635,939) scale(0.94,1) translate(-635,-939)">15 Apr 2020</text><rect x="700" y="927" width="1" height="3" fill="#000" /><text x="699" y="939" font-size="9.7" fill="#000" transform="translate(699,939) scale(0.94,1) translate(-699,-939)">24 Apr 2020</text><rect x="764" y="927" width="1" height="3" fill="#000" /><text x="763" y="939" font-size="9.7" fill="#000" transform="translate(763,939) scale(0.94,1) translate(-763,-939)">4 May 2020</text><rect x="828" y="927" width="1" height="3" fill="#000" /><text x="827" y="939" font-size="9.7" fill="#000" transform="translate(827,939) scale(0.94,1) translate(-827,-939)">13 May 2020</text><rect x="892" y="927" width="1" height="3" fill="#000" /><text x="891" y="939" font-size="9.7" fill="#000" transform="translate(891,939) scale(0.94,1) translate(-891,-939)">22 May 2020</text><rect x="956" y="927" width="1" height="3" fill="#000" /><text x="955" y="939" font-size="9.7" fill="#000" transform="translate(955,939) scale(0.94,1) translate(-955,-939)">1 Jun 2020</text><rect x="1020" y="927" width="1" height="3" fill="#000" /><text x="1019" y="939" font-size="9.7" fill="#000" transform="translate(1019,939) scale(0.94,1) translate(-1019,-939)">10 Jun 2020</text><rect x="1084" y="927" width="1" height="3" fill="#000" /><text x="1083" y="939" font-size="9.7" fill="#000" transform="translate(1083,939) scale(0.94,1) translate(-1083,-939)">19 Jun 2020</text><rect x="1148" y="927" width="1" height="3" fill="#000" /><text x="1147" y="939" font-size="9.7" fill="#000" transform="translate(1147,939) scale(0.94,1) translate(-1147,-939)">29 Jun 2020</text><rect x="1212" y="927" width="1" height="3" fill="#000" /><text x="1211" y="939" font-size="9.7" fill="#000" transform="translate(1211,939) scale(0.94,1) translate(-1211,-939)">8 Jul 2020</text><rect x="1276" y="927" width="1" height="3" fill="#000" /><text x="1275" y="939" font-size="9.7" fill="#000" transform="translate(1275,939) scale(0.94,1) translate(-1275,-939)">17 Jul 2020</text><rect x="1340" y="927" width="1" height="3" fill="#000" /><text x="1339" y="939" font-size="9.7" fill="#000" transform="translate(1339,939) scale(0.94,1) translate(-1339,-939)">27 Jul 2020</text><rect x="1404" y="927" width="1" height="3" fill="#000" /><text x="1403" y="939" font-size="9.7" fill="#000" transform="translate(1403,939) scale(0.94,1) translate(-1403,-939)">5 Aug 2020</text><text x="-2" y="939" font-size="9.7" fill="#000" transform="translate(-2,939) scale(0.94,1) translate(2,-939)">2 Jan 2020</text><defs>
<linearGradient id="gtab" x1="0" y1="0" x2="0" y2="1"><stop offset="0" stop-color="#5a5aff"/><stop offset="1" stop-color="#3a3ae8"/></linearGradient>
<linearGradient id="gbox" x1="0" y1="0" x2="0" y2="1"><stop offset="0" stop-color="#3434dc"/><stop offset="1" stop-color="#0000aa"/></linearGradient>
<linearGradient id="gbtn" x1="0" y1="0" x2="0" y2="1"><stop offset="0" stop-color="#f4f4f4"/><stop offset="0.35" stop-color="#e6e6e6"/><stop offset="0.4" stop-color="#d8d8d8"/><stop offset="1" stop-color="#d0d0d0"/></linearGradient>
</defs><rect x="0" y="43" width="220" height="68" fill="#fff" /><rect x="0" y="45" width="51" height="24" fill="#0000b0" /><rect x="1" y="46" width="49" height="23" fill="url(#gtab)" /><rect x="166" y="45" width="52" height="24" fill="#0000b0" /><rect x="167" y="46" width="50" height="23" fill="url(#gtab)" /><rect x="0" y="69" width="108" height="40" fill="#0000b0" /><rect x="1" y="69" width="106" height="39" fill="url(#gbox)" /><rect x="110" y="69" width="108" height="40" fill="#0000b0" /><rect x="111" y="69" width="106" height="39" fill="url(#gbox)" /><rect x="3" y="68" width="44" height="1" fill="#1818a0" /><rect x="3" y="69" width="44" height="1" fill="#9a9aff" /><rect x="170" y="68" width="44" height="1" fill="#1818a0" /><rect x="170" y="69" width="44" height="1" fill="#9a9aff" /><rect x="53.5" y="45.5" width="110" height="21" fill="#fff" stroke="#a8a8a8" stroke-width="1"/><rect x="54" y="46" width="20" height="20" fill="url(#gbtn)" /><rect x="74" y="46" width="1" height="20" fill="#b0b0b0" /><rect x="143" y="46" width="20" height="20" fill="url(#gbtn)" /><rect x="142" y="46" width="1" height="20" fill="#b0b0b0" /><polygon points="61,55 67,55 64,58" fill="#5060c0"/><polygon points="150,58 156,58 153,55" fill="#5060c0"/><text x="138.5" y="60" font-size="12.5" fill="#000" text-anchor="end">1.00</text><text x="12" y="61" font-size="12.5" fill="#e8e8ff" textLength="25" lengthAdjust="spacingAndGlyphs">SELL</text><text x="180" y="61" font-size="12.5" fill="#e8e8ff" textLength="23" lengthAdjust="spacingAndGlyphs">BUY</text><text x="22.5" y="100" font-size="12.5" font-weight="bold" fill="#fff" textLength="20.5" lengthAdjust="spacingAndGlyphs">138</text><text x="46" y="100" font-size="33" fill="#fff" textLength="35" lengthAdjust="spacingAndGlyphs">48</text><text x="86" y="84" font-size="12.5" font-weight="bold" fill="#fff">2</text><text x="132.5" y="100" font-size="12.5" font-weight="bold" fill="#fff" textLength="20.5" lengthAdjust="spacingAndGlyphs">138</text><text x="159" y="100" font-size="33" fill="#fff" textLength="32.5" lengthAdjust="spacingAndGlyphs">52</text><text x="196.5" y="84" font-size="12.5" font-weight="bold" fill="#fff">7</text></g></svg></body></html>
